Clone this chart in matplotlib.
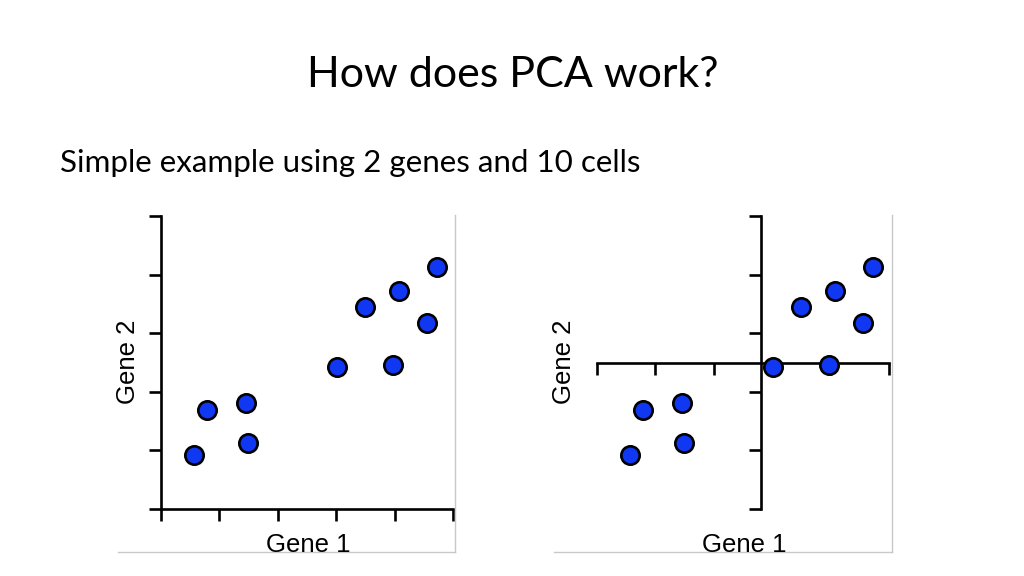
import numpy as np
import matplotlib
matplotlib.use("Agg")
import matplotlib.pyplot as plt
from matplotlib.lines import Line2D

# data: expression of 2 genes in 10 cells
gene1 = [0.57, 0.78, 1.45, 1.49, 3.02, 3.50, 3.97, 4.07, 4.55, 4.73]
gene2 = [0.92, 1.69, 1.81, 1.12, 2.43, 3.44, 2.46, 3.72, 3.17, 4.13]
ticks = [0, 1, 2, 3, 4, 5]

title = "How does PCA work?"
subtitle = "Simple example using 2 genes and 10 cells"
xlabel = "Gene 1"
ylabel = "Gene 2"

W, H = 1024, 576
fig = plt.figure(figsize=(W / 100, H / 100), dpi=100)
fig.patch.set_facecolor("white")


def px(x, y):
    # pixel (from top-left) -> figure coords
    return x / W, 1 - y / H


def panel(left, centered):
    ax = fig.add_axes([left / W, 67 / H, 292 / W, 293 / H])
    ax.scatter(gene1, gene2, s=175, color="#1038F2", edgecolors="black",
               linewidths=1.9, zorder=3, clip_on=False)
    ax.set_xlim(0, 5)
    ax.set_ylim(0, 5)
    ax.set_xticks(ticks)
    ax.set_yticks(ticks)
    ax.set_xticklabels([])
    ax.set_yticklabels([])
    ax.tick_params(direction="out", length=8.5, width=1.9, color="black")
    for s in ["top", "right"]:
        ax.spines[s].set_visible(False)
    for s in ["left", "bottom"]:
        ax.spines[s].set_linewidth(1.9)
        ax.spines[s].set_color("black")
    if centered:
        ax.spines["left"].set_position(("data", np.mean(gene1)))
        ax.spines["bottom"].set_position(("data", np.mean(gene2)))
    ax.patch.set_alpha(0)
    return ax


panel(161, False)
panel(597, True)

# thin grey frame of the pasted pictures
for x0, x1 in [(118, 455), (554, 892)]:
    fig.add_artist(Line2D([px(x0, 0)[0], px(x1, 0)[0]], [px(0, 552)[1]] * 2,
                          color="#c8c8c8", lw=1))
    fig.add_artist(Line2D([px(x1, 0)[0]] * 2, [px(0, 215)[1], px(0, 552)[1]],
                          color="#c8c8c8", lw=1))

# axis labels
lab = dict(family="Liberation Sans", fontsize=18.5, color="black")
fig.text(*px(308, 545), xlabel, ha="center", va="center", **lab)
fig.text(*px(744, 545), xlabel, ha="center", va="center", **lab)
fig.text(*px(128, 362), ylabel, ha="center", va="center", rotation=90, **lab)
fig.text(*px(564, 362), ylabel, ha="center", va="center", rotation=90, **lab)

fig.text(*px(513, 87), title, ha="center", va="baseline",
         family="Lato", fontsize=31, color="black")
fig.text(*px(60, 172), subtitle, ha="left", va="baseline",
         family="Lato", fontsize=22.6, color="black")

fig.savefig("out.png", dpi=100)
